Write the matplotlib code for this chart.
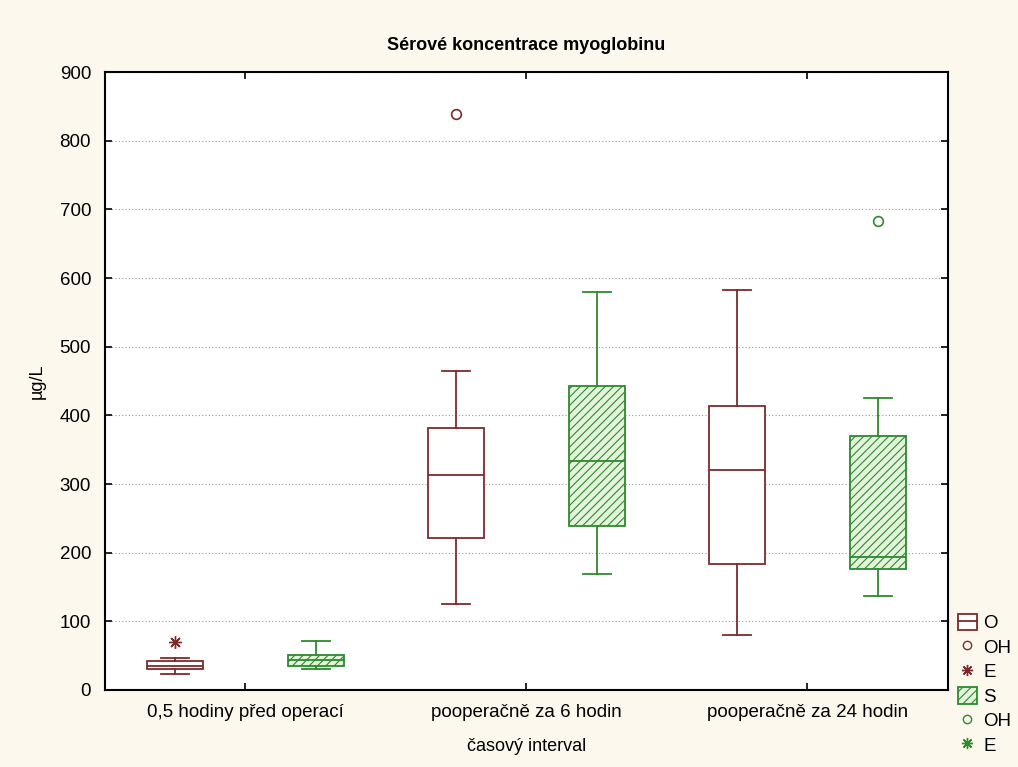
import matplotlib.pyplot as plt
from matplotlib.patches import Patch
from matplotlib.lines import Line2D

# time intervals
categories = ["0,5 hodiny před operací", "pooperačně za 6 hodin", "pooperačně za 24 hodin"]

# group O (brown)
o_whislo = [24, 125, 80]
o_q1 = [30, 221, 183]
o_med = [35, 313, 320]
o_q3 = [42, 382, 414]
o_whishi = [47, 465, 583]
o_outliers = [[], [839], []]
o_extremes = [[70], [], []]

# group S (green, hatched)
s_whislo = [31, 169, 137]
s_q1 = [35, 239, 176]
s_med = [43, 334, 193]
s_q3 = [51, 443, 370]
s_whishi = [71, 580, 425]
s_outliers = [[], [], [683]]
s_extremes = [[], [], []]

yticks = [0, 100, 200, 300, 400, 500, 600, 700, 800, 900]

BROWN = "#7b2b2b"
GREEN = "#2d8a2d"
BG = "#fcf8ed"

plt.rcParams["font.family"] = ["Liberation Sans", "DejaVu Sans"]
plt.rcParams["hatch.linewidth"] = 0.8

fig = plt.figure(figsize=(10.18, 7.67), dpi=100, facecolor=BG)
ax = fig.add_axes([0.1031, 0.1004, 0.8281, 0.8057])
ax.set_facecolor("white")


def make_stats(lo, q1, med, q3, hi):
    return [dict(whislo=a, q1=b, med=c, q3=d, whishi=e, fliers=[])
            for a, b, c, d, e in zip(lo, q1, med, q3, hi)]


pos = list(range(len(categories)))
off = 0.25
width = 0.2

o_stats = make_stats(o_whislo, o_q1, o_med, o_q3, o_whishi)
s_stats = make_stats(s_whislo, s_q1, s_med, s_q3, s_whishi)

ax.bxp(o_stats, positions=[p - off for p in pos], widths=width, patch_artist=True,
       showfliers=False,
       boxprops=dict(facecolor="white", edgecolor=BROWN, linewidth=1.3),
       medianprops=dict(color=BROWN, linewidth=1.3),
       whiskerprops=dict(color=BROWN, linewidth=1.3),
       capprops=dict(color=BROWN, linewidth=1.3), capwidths=0.1)

ax.bxp(s_stats, positions=[p + off for p in pos], widths=width, patch_artist=True,
       showfliers=False,
       boxprops=dict(facecolor="#e4f4dc", edgecolor=GREEN, linewidth=1.3, hatch="////"),
       medianprops=dict(color=GREEN, linewidth=1.3),
       whiskerprops=dict(color=GREEN, linewidth=1.3),
       capprops=dict(color=GREEN, linewidth=1.3), capwidths=0.1)

for i, p in enumerate(pos):
    for v in o_outliers[i]:
        ax.plot(p - off, v, "o", mfc="none", mec=BROWN, ms=7, mew=1.2)
    for v in o_extremes[i]:
        ax.plot(p - off, v, marker=(8, 2, 0), color=BROWN, ms=9, mew=1.0, ls="none")
    for v in s_outliers[i]:
        ax.plot(p + off, v, "o", mfc="none", mec=GREEN, ms=7, mew=1.2)
    for v in s_extremes[i]:
        ax.plot(p + off, v, marker=(8, 2, 0), color=GREEN, ms=9, mew=1.0, ls="none")

ax.set_xlim(-0.5, 2.5)
ax.set_ylim(0, 900)
ax.set_yticks(yticks)
ax.set_xticks(pos)
ax.set_xticklabels(categories)
ax.tick_params(axis="both", direction="in", length=5, width=1.2, labelsize=13.5, pad=10,
               top=True, right=True, colors="black")
ax.yaxis.grid(True, linestyle=(0, (1, 2)), color="#999999", linewidth=0.8)
ax.set_axisbelow(True)
for sp in ax.spines.values():
    sp.set_linewidth(1.5)

ax.set_title("Sérové koncentrace myoglobinu", fontsize=13, fontweight="bold", pad=16)
ax.set_ylabel("µg/L", fontsize=13, labelpad=10)
ax.set_xlabel("časový interval", fontsize=13, labelpad=12)

handles = [
    (Patch(facecolor="white", edgecolor=BROWN, linewidth=1.3),
     Line2D([], [], color=BROWN, linewidth=1.3)),
    Line2D([], [], marker="o", mfc="none", mec=BROWN, ls="none", ms=6),
    Line2D([], [], marker=(8, 2, 0), color=BROWN, ls="none", ms=8),
    Patch(facecolor="#e4f4dc", edgecolor=GREEN, hatch="////", linewidth=1.3),
    Line2D([], [], marker="o", mfc="none", mec=GREEN, ls="none", ms=6),
    Line2D([], [], marker=(8, 2, 0), color=GREEN, ls="none", ms=8),
]
labels = ["O", "OH", "E", "S", "OH", "E"]
fig.legend(handles, labels, loc="upper left", bbox_to_anchor=(0.941, 0.200),
           frameon=False, fontsize=13.5, handlelength=1.0, handleheight=1.0,
           handletextpad=0.35, labelspacing=0.3, borderpad=0, borderaxespad=0)

fig.savefig("out.png", dpi=100, facecolor=BG)
